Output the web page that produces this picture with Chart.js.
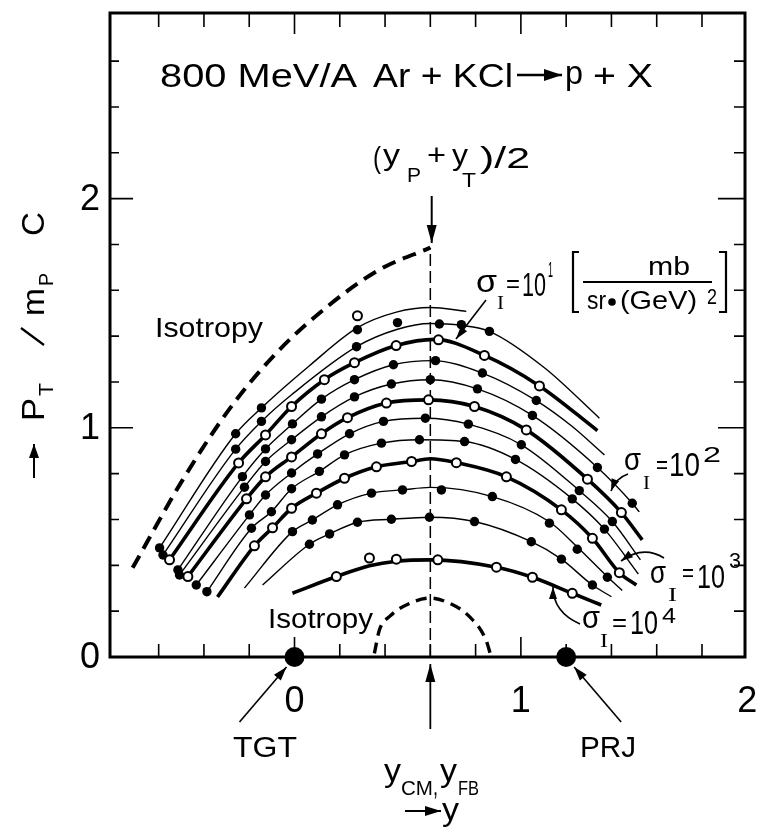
<!DOCTYPE html>
<html><head><meta charset="utf-8">
<script src="https://cdn.jsdelivr.net/npm/chart.js@4.4.0/dist/chart.umd.min.js"></script>
<style>html,body{margin:0;padding:0;background:#fff}canvas{display:block}</style>
</head><body>
<canvas id="c" width="759" height="827"></canvas>
<script>
// ---------------- data (rapidity y, P_T/m_p c) ----------------
const xRange = [-0.815, 1.99];
const yRange = [0, 2.81];
const xTickValues = [-0.6,-0.4,-0.2,0,0.2,0.4,0.6,0.8,1.0,1.2,1.4,1.6,1.8];
const yTickValues = [0.2,0.4,0.6,0.8,1.0,1.2,1.4,1.6,1.8,2.0,2.2,2.4,2.6];
const xLabelValues = [0,1,2];
const xLabels = ['0','1','2'];
const yLabelValues = [0,1,2];
const yLabels = ['0','1','2'];
const yCM = 0.6;
const beamRapidities = [0, 1.2];   // TGT, PRJ

// contour lines of invariant cross section (top = smallest sigma)
const c1  = [[-0.596,0.476],[-0.26,0.974],[-0.146,1.087],[0.066,1.271],[0.278,1.437],[0.45,1.505],[0.6,1.525],[0.759,1.508]];
const c2  = [[-0.581,0.445],[-0.26,0.907],[-0.146,1.028],[-0.013,1.144],[0.274,1.354],[0.455,1.43],[0.6,1.455],[0.737,1.447],[0.861,1.421],[1.104,1.262],[1.347,1.042]];
const c3  = [[-0.552,0.424],[-0.247,0.847],[-0.128,0.969],[-0.013,1.093],[0.132,1.21],[0.265,1.284],[0.449,1.359],[0.62,1.386],[0.839,1.316],[1.082,1.183],[1.338,0.988]];
const c4  = [[-0.515,0.38],[-0.23,0.787],[-0.128,0.908],[-0.009,1.017],[0.119,1.125],[0.265,1.21],[0.437,1.275],[0.61,1.293],[0.83,1.239],[1.068,1.119],[1.223,1.009],[1.369,0.882]];
const c5  = [[-0.508,0.358],[-0.221,0.741],[-0.128,0.853],[-0.013,0.948],[0.119,1.048],[0.265,1.135],[0.428,1.191],[0.6,1.21],[0.808,1.17],[1.051,1.054],[1.338,0.827],[1.492,0.671],[1.523,0.633]];
const c6  = [[-0.471,0.351],[-0.212,0.69],[-0.128,0.786],[-0.013,0.873],[0.119,0.974],[0.234,1.044],[0.406,1.108],[0.592,1.122],[0.795,1.093],[1.024,0.991],[1.294,0.776],[1.444,0.63],[1.536,0.511]];
const c7  = [[-0.434,0.314],[-0.199,0.62],[-0.128,0.707],[-0.013,0.803],[0.102,0.886],[0.243,0.974],[0.393,1.028],[0.578,1.042],[0.768,1.016],[1.002,0.926],[1.258,0.726],[1.404,0.591],[1.528,0.424]];
const c8  = [[-0.387,0.285],[-0.19,0.562],[-0.102,0.634],[-0.013,0.734],[0.11,0.81],[0.221,0.882],[0.384,0.933],[0.552,0.948],[0.751,0.94],[0.976,0.862],[1.227,0.69],[1.369,0.558],[1.519,0.362]];
const c9  = [[-0.34,0.262],[-0.177,0.485],[-0.097,0.564],[-0.013,0.649],[0.097,0.715],[0.221,0.78],[0.362,0.83],[0.517,0.853],[0.6,0.865],[0.715,0.848],[0.936,0.786],[1.179,0.642],[1.316,0.518],[1.435,0.368],[1.51,0.314]];
const c10 = [[-0.221,0.301],[-0.009,0.547],[0.079,0.598],[0.19,0.664],[0.34,0.715],[0.477,0.729],[0.6,0.74],[0.874,0.7],[1.126,0.59],[1.249,0.48],[1.382,0.35],[1.448,0.29]];
const c11 = [[-0.141,0.314],[0.066,0.492],[0.155,0.537],[0.278,0.588],[0.428,0.601],[0.6,0.61],[0.795,0.591],[1.046,0.503],[1.179,0.427],[1.316,0.314],[1.4,0.263]];
const c12 = [[-0.009,0.278],[0.185,0.351],[0.331,0.398],[0.45,0.418],[0.6,0.424],[0.892,0.392],[1.051,0.348],[1.227,0.278],[1.355,0.227]];
const thinCurves  = [c1,c2,c4,c5,c7,c8,c10,c11];
const thickCurves = [c3,c6,c9,c12];

// isotropy limits (dashed)
const isoOuter = [[-0.715,0.389],[-0.494,0.773],[-0.274,1.1],[-0.066,1.341],[0.155,1.537],[0.375,1.69],[0.6,1.786]];
const isoInner = [[0.353,0.016],[0.375,0.118],[0.419,0.176],[0.508,0.234],[0.6,0.257],[0.69,0.232],[0.773,0.176],[0.846,0.074],[0.868,0.003]];

// measured points
const filledPts = [
 [-0.596,0.476],[-0.26,0.974],[-0.146,1.087],[0.278,1.428],
 [-0.581,0.445],[-0.26,0.907],[-0.146,1.028],[0.274,1.354],[0.455,1.459],[0.64,1.453],[0.737,1.45],[0.861,1.421],
 [-0.515,0.38],[-0.23,0.787],[-0.128,0.908],[-0.009,1.017],[0.119,1.125],[0.265,1.21],[0.437,1.275],[0.623,1.293],[0.83,1.239],[1.068,1.119],
 [-0.508,0.358],[-0.221,0.741],[-0.128,0.853],[-0.013,0.948],[0.119,1.048],[0.265,1.135],[0.428,1.191],[0.6,1.21],[0.808,1.17],[1.051,1.054],[1.338,0.827],[1.492,0.671],
 [-0.434,0.314],[-0.199,0.62],[-0.128,0.707],[-0.013,0.803],[0.102,0.886],[0.243,0.974],[0.393,1.028],[0.578,1.042],[0.768,1.016],[1.002,0.926],[1.258,0.726],[1.404,0.591],
 [-0.387,0.285],[-0.19,0.562],[-0.102,0.634],[-0.013,0.734],[0.11,0.81],[0.221,0.882],[0.384,0.933],[0.552,0.948],[0.751,0.94],[0.976,0.862],[1.227,0.69],[1.369,0.558],
 [-0.009,0.547],[0.079,0.598],[0.19,0.664],[0.34,0.715],[0.477,0.729],[0.649,0.729],[0.874,0.7],[1.126,0.584],[1.249,0.47],[1.382,0.348],
 [0.066,0.492],[0.155,0.537],[0.278,0.588],[0.428,0.601],[0.596,0.61],[0.795,0.591],[1.046,0.503],[1.179,0.427],[1.316,0.314]
];
const openPts = [
 [0.278,1.489],
 [-0.552,0.424],[-0.247,0.847],[-0.128,0.969],[-0.013,1.093],[0.132,1.21],[0.265,1.284],[0.449,1.359],[0.636,1.384],[0.839,1.316],[1.082,1.183],
 [-0.471,0.351],[-0.212,0.69],[-0.128,0.786],[-0.013,0.873],[0.119,0.974],[0.234,1.044],[0.406,1.108],[0.592,1.122],[0.795,1.093],[1.024,0.991],[1.294,0.776],[1.444,0.63],
 [-0.177,0.485],[-0.097,0.564],[-0.013,0.649],[0.097,0.715],[0.221,0.78],[0.362,0.83],[0.517,0.853],[0.715,0.848],[0.936,0.786],[1.179,0.642],[1.316,0.518],[1.435,0.368],
 [0.185,0.351],[0.331,0.432],[0.45,0.427],[0.633,0.424],[0.892,0.392],[1.051,0.348],[1.227,0.278]
];

// ---------------- chart ----------------
const toXY = a => a.map(p => ({x:p[0], y:p[1]}));
const FONT = '"Liberation Sans", Arial, sans-serif';
const SERIF = '"Liberation Serif", serif';

const datasets = [];
datasets.push({data: toXY(beamRapidities.map(v=>[v,0])), showLine:false, pointRadius:10, pointBackgroundColor:'#000', pointBorderWidth:0, clip:false, order:0});
datasets.push({data: toXY(openPts), showLine:false, pointRadius:4.5, pointBackgroundColor:'#fff', pointBorderColor:'#000', pointBorderWidth:2, order:0});
datasets.push({data: toXY(filledPts), showLine:false, pointRadius:4.7, pointBackgroundColor:'#000', pointBorderWidth:0, order:0});
thinCurves.forEach(c => datasets.push({data: toXY(c), showLine:true, pointRadius:0, borderColor:'#000', borderWidth:1.4, cubicInterpolationMode:'monotone', order:1}));
thickCurves.forEach(c => datasets.push({data: toXY(c), showLine:true, pointRadius:0, borderColor:'#000', borderWidth:3.6, cubicInterpolationMode:'monotone', order:1}));
datasets.push({data: toXY(isoOuter), showLine:true, pointRadius:0, borderColor:'#000', borderWidth:4, borderDash:[14,8], cubicInterpolationMode:'monotone', order:1});
datasets.push({data: toXY(isoInner), showLine:true, pointRadius:0, borderColor:'#000', borderWidth:3.4, borderDash:[11,7], cubicInterpolationMode:'monotone', order:1});
datasets.push({data: toXY([[yCM,0],[yCM,isoOuter[isoOuter.length-1][1]]]), showLine:true, pointRadius:0, borderColor:'#000', borderWidth:1.5, borderDash:[12,5], order:1});

function fitText(ctx, str, left, right, base, size, family) {
  ctx.font = size + 'px ' + (family || FONT);
  const w = ctx.measureText(str).width;
  ctx.save(); ctx.translate(left, base); ctx.scale((right-left)/w, 1);
  ctx.textAlign = 'left'; ctx.textBaseline = 'alphabetic'; ctx.fillText(str, 0, 0); ctx.restore();
}
function arrowHead(ctx, x1, y1, x2, y2, len, half) {
  const a = Math.atan2(y2-y1, x2-x1);
  ctx.beginPath(); ctx.moveTo(x2, y2);
  ctx.lineTo(x2 - len*Math.cos(a) + half*Math.sin(a), y2 - len*Math.sin(a) - half*Math.cos(a));
  ctx.lineTo(x2 - len*Math.cos(a) - half*Math.sin(a), y2 - len*Math.sin(a) + half*Math.cos(a));
  ctx.closePath(); ctx.fill();
}
function arrow(ctx, x1, y1, x2, y2, w, len, half) {
  ctx.lineWidth = w; ctx.beginPath(); ctx.moveTo(x1,y1); ctx.lineTo(x2,y2); ctx.stroke();
  arrowHead(ctx, x1, y1, x2, y2, len, half);
}
function curvedArrow(ctx, x1, y1, cx, cy, x2, y2, w, len, half) {
  ctx.lineWidth = w; ctx.beginPath(); ctx.moveTo(x1,y1); ctx.quadraticCurveTo(cx,cy,x2,y2); ctx.stroke();
  arrowHead(ctx, cx, cy, x2, y2, len, half);
}
function sigmaLabel(ctx, p) {
  fitText(ctx, 'σ', p.s[0], p.s[1], p.s[2], 32);
  fitText(ctx, 'I', p.i[0], p.i[1], p.i[2], 19, SERIF);
  fitText(ctx, '=', p.e[0], p.e[1], p.e[2], 26);
  fitText(ctx, '10', p.t[0], p.t[1], p.t[2], 33);
  fitText(ctx, p.expo, p.x[0], p.x[1], p.x[2], 22);
}

const decor = {
  id: 'decor',
  beforeDatasetsDraw(chart) {
    const {ctx, chartArea: a, scales: {x, y}} = chart;
    ctx.save();
    ctx.strokeStyle = '#000'; ctx.fillStyle = '#000';
    ctx.lineWidth = 3;
    ctx.strokeRect(a.left, a.top, a.right - a.left, a.bottom - a.top);
    ctx.lineWidth = 1.6;
    xTickValues.forEach(v => {
      const px = x.getPixelForValue(v);
      const major = Math.abs(v - Math.round(v)) < 1e-6;
      ctx.beginPath();
      ctx.moveTo(px, a.bottom); ctx.lineTo(px, a.bottom - (major ? 20 : 13));
      ctx.moveTo(px, a.top); ctx.lineTo(px, a.top + (major ? 21 : 14));
      ctx.stroke();
    });
    yTickValues.forEach(v => {
      const py = y.getPixelForValue(v);
      const major = Math.abs(v - Math.round(v)) < 1e-6;
      ctx.beginPath();
      ctx.moveTo(a.left, py); ctx.lineTo(a.left + (major ? 23 : 9), py);
      ctx.moveTo(a.right, py); ctx.lineTo(a.right - (major ? 27 : 11), py);
      ctx.stroke();
    });
    ctx.restore();
  },
  afterDraw(chart) {
    const {ctx, chartArea: a, scales: {x, y}} = chart;
    ctx.save();
    ctx.fillStyle = '#000'; ctx.strokeStyle = '#000';
    // tick labels
    ctx.font = '36px ' + FONT; ctx.textAlign = 'center'; ctx.textBaseline = 'alphabetic';
    xLabelValues.forEach((v, i) => ctx.fillText(xLabels[i], x.getPixelForValue(v), a.bottom + 55));
    ctx.textAlign = 'right'; ctx.textBaseline = 'middle';
    yLabelValues.forEach((v, i) => ctx.fillText(yLabels[i], a.left - 10, y.getPixelForValue(v) + 1));

    // title
    fitText(ctx, '800 MeV/A', 160, 357, 87, 33);
    fitText(ctx, 'Ar + KCl', 373, 513, 87, 33);
    arrow(ctx, 517, 75, 562, 75, 2.5, 18, 6);
    fitText(ctx, 'p', 565, 583, 84, 33);
    fitText(ctx, '+ X', 593, 653, 87, 33);

    // (yP + yT)/2
    fitText(ctx, '(', 373, 381, 168, 30);
    fitText(ctx, 'y', 383, 400, 165, 30);
    fitText(ctx, 'P', 407, 421, 182, 21);
    fitText(ctx, '+', 427, 446, 165, 30);
    fitText(ctx, 'y', 452, 468, 165, 30);
    fitText(ctx, 'T', 462, 476, 187, 21);
    fitText(ctx, ')/2', 480, 530, 168, 30);
    arrow(ctx, 431.7, 196, 431.7, 243, 2, 18, 5);

    // Isotropy labels
    fitText(ctx, 'Isotropy', 155, 263, 337, 28);
    fitText(ctx, 'Isotropy', 268, 373, 628, 27);

    // sigma = 10^1 with units
    sigmaLabel(ctx, {s:[476,497,292], i:[497,504,309], e:[506,520,292], t:[522,546,296], x:[548,553,277], expo:'1'});
    ctx.lineWidth = 2.2;
    ctx.beginPath();
    ctx.moveTo(579,252); ctx.lineTo(573,252); ctx.lineTo(573,312); ctx.lineTo(579,312);
    ctx.moveTo(719,252); ctx.lineTo(726,252); ctx.lineTo(726,312); ctx.lineTo(719,312);
    ctx.stroke();
    fitText(ctx, 'mb', 648, 690, 275, 26);
    ctx.lineWidth = 2; ctx.beginPath(); ctx.moveTo(583,282); ctx.lineTo(712,282); ctx.stroke();
    fitText(ctx, 'sr', 587, 606, 309, 26);
    ctx.beginPath(); ctx.arc(612, 302, 3.8, 0, Math.PI*2); ctx.fill();
    fitText(ctx, '(GeV)', 620, 697, 309, 26);
    fitText(ctx, '2', 707, 717, 304, 22);
    arrow(ctx, 486, 300, 456, 339, 1.6, 13, 4);

    // sigma = 10^2, 10^3, 10^4
    sigmaLabel(ctx, {s:[624,641,470], i:[643,650,489], e:[656,668,473], t:[669,700,476], x:[703,721,462], expo:'2'});
    curvedArrow(ctx, 628, 474, 616, 478, 611, 491, 1.6, 12, 4);
    sigmaLabel(ctx, {s:[650,666,583], i:[668,677,601], e:[682,694,581], t:[697,725,588], x:[729,741,568], expo:'3'});
    curvedArrow(ctx, 664, 558, 643, 545, 621, 561, 1.6, 12, 4);
    sigmaLabel(ctx, {s:[582,600,628], i:[600,608,647], e:[612,627,631], t:[630,658,634], x:[662,676,623], expo:'4'});
    curvedArrow(ctx, 580, 624, 553, 612, 553, 587, 1.6, 12, 4);

    // bottom annotations
    const xT = x.getPixelForValue(beamRapidities[0]), xP = x.getPixelForValue(beamRapidities[1]), xc = x.getPixelForValue(yCM);
    arrow(ctx, xT - 55, a.bottom + 65, xT - 8, a.bottom + 10, 1.6, 14, 4.5);
    arrow(ctx, xP + 55, a.bottom + 65, xP + 8, a.bottom + 10, 1.6, 14, 4.5);
    arrow(ctx, xc, a.bottom + 72, xc, a.bottom + 7, 1.8, 18, 5);
    fitText(ctx, 'TGT', 233, 297, 757, 30);
    fitText(ctx, 'PRJ', 580, 636, 757, 30);
    fitText(ctx, 'y', 384, 401, 781, 32);
    fitText(ctx, 'CM', 401, 433, 795, 21);
    fitText(ctx, ',', 433, 438, 795, 26);
    fitText(ctx, 'y', 440, 457, 781, 32);
    fitText(ctx, 'FB', 458, 479, 795, 21);
    arrow(ctx, 405, 811, 441, 811, 2, 16, 5);
    fitText(ctx, 'y', 442, 459, 820, 32);

    // rotated y-axis title (reads bottom to top)
    ctx.save(); ctx.translate(44, 0); ctx.rotate(-Math.PI/2);
    arrow(ctx, -478, -10, -444, -10, 2, 14, 5);
    fitText(ctx, 'P', -421, -398, 0, 32);
    fitText(ctx, 'T', -396, -383, 9, 21);
    ctx.lineWidth = 2.2;
    ctx.beginPath(); ctx.moveTo(-345, 0); ctx.lineTo(-328, -23); ctx.stroke();
    fitText(ctx, 'm', -316, -288, 0, 32);
    fitText(ctx, 'P', -286, -273, 9, 21);
    fitText(ctx, 'C', -236, -212, 0, 32);
    ctx.restore();

    ctx.restore();
  }
};

new Chart(document.getElementById('c').getContext('2d'), {
  type: 'scatter',
  data: { datasets },
  options: {
    responsive: false, animation: false, devicePixelRatio: 1,
    layout: { padding: { left: 110, right: 14, top: 13, bottom: 170 } },
    plugins: { legend: { display: false }, tooltip: { enabled: false } },
    scales: {
      x: { type: 'linear', min: xRange[0], max: xRange[1], display: false },
      y: { type: 'linear', min: yRange[0], max: yRange[1], display: false }
    }
  },
  plugins: [decor]
});
</script>
</body></html>
